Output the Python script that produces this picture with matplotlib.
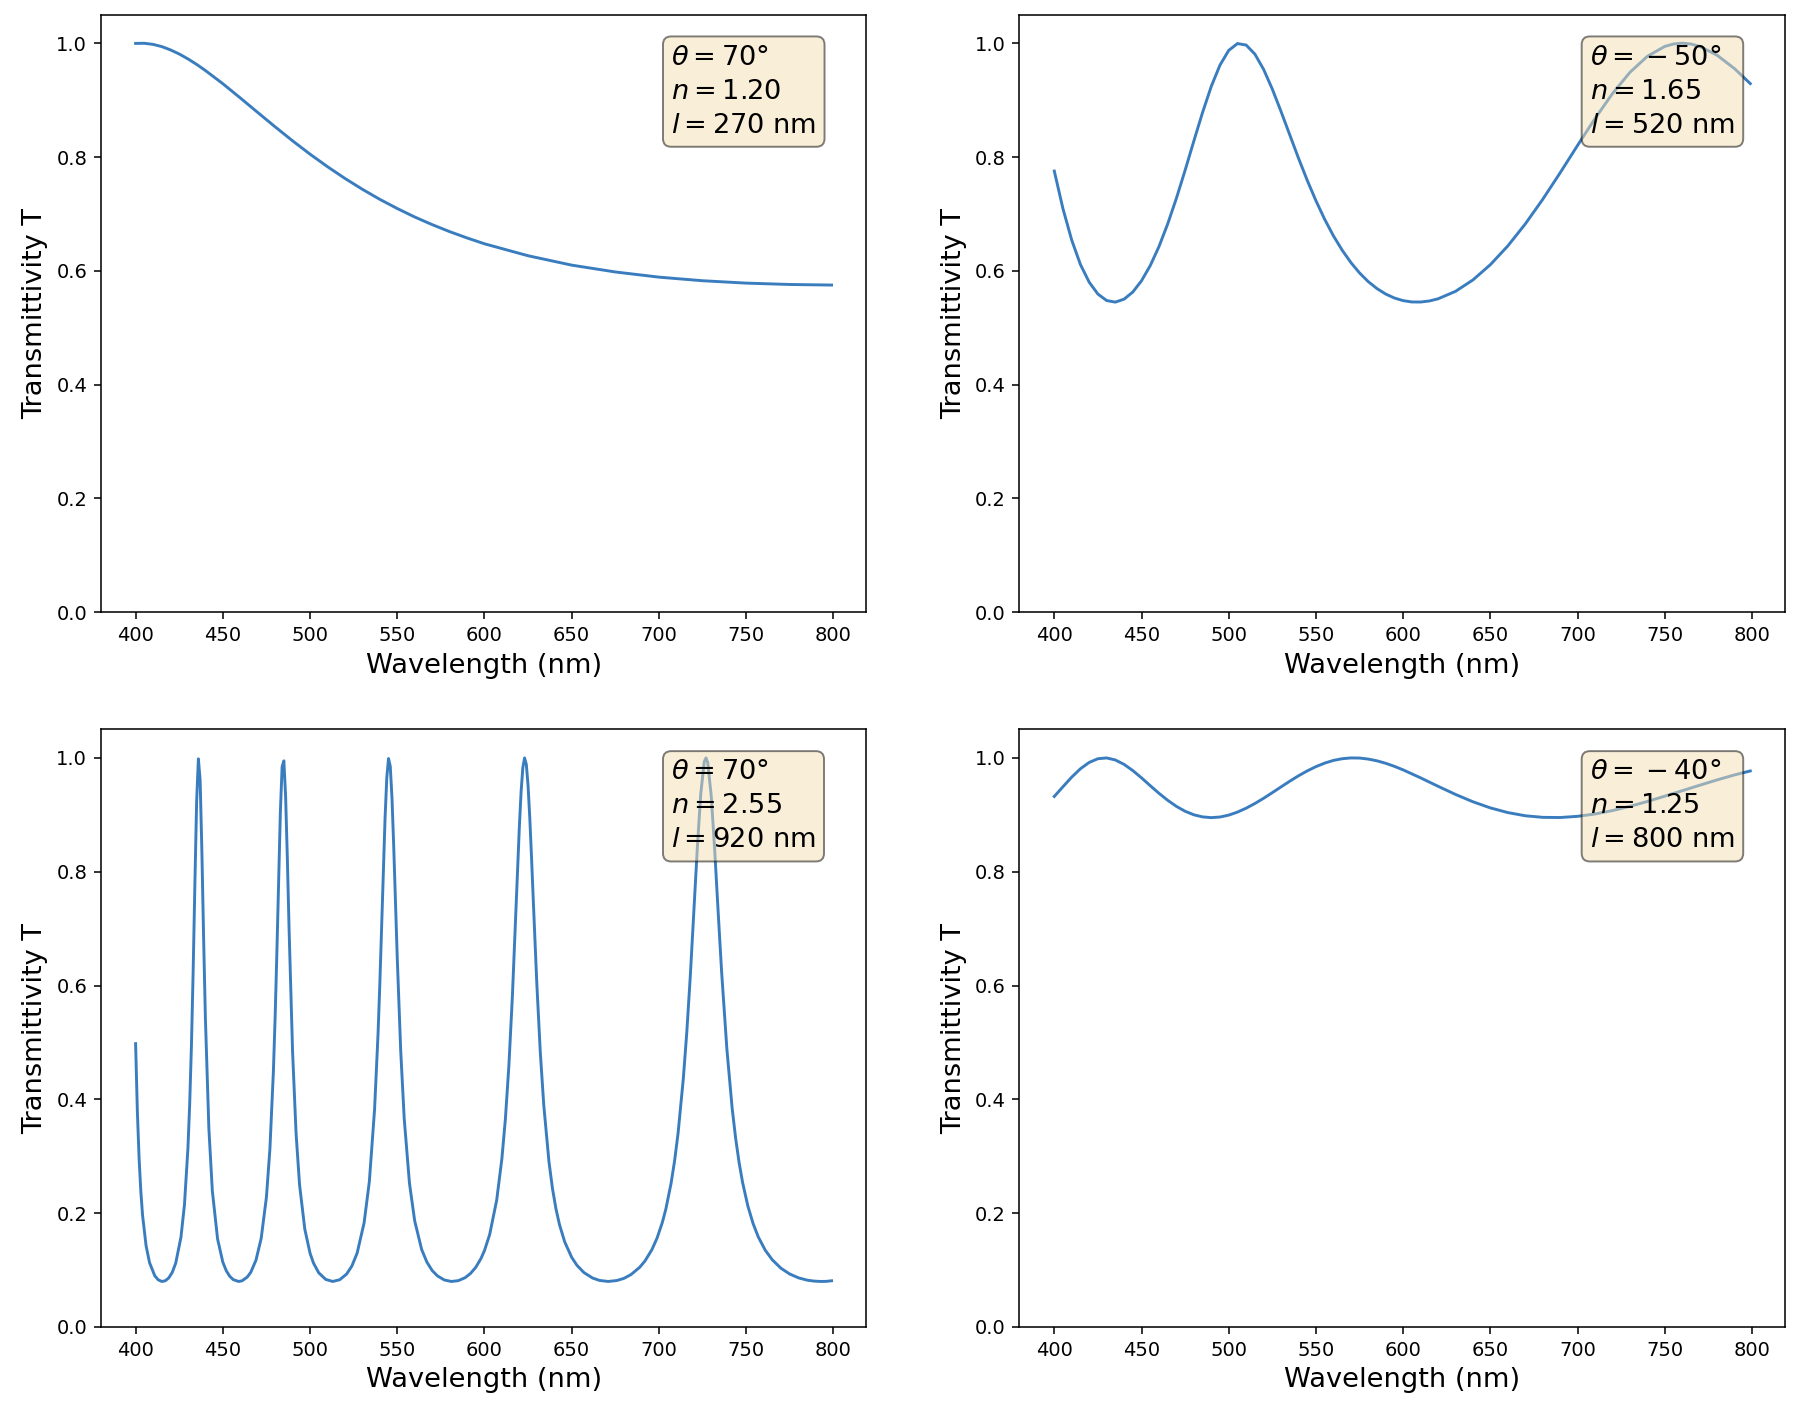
import matplotlib
matplotlib.use("Agg")
import matplotlib.pyplot as plt

plt.rcParams["font.family"] = "DejaVu Sans"
plt.rcParams["xtick.labelsize"] = 10
plt.rcParams["ytick.labelsize"] = 10
plt.rcParams["axes.labelsize"] = 14

# film parameters for each panel
thetas = [70, -50, 70, -40]
indices = [1.20, 1.65, 2.55, 1.25]
thicknesses = [270, 520, 920, 800]

# panel a: theta=70, n=1.20, l=270
wl_a = [400, 405, 410, 415, 420, 425, 430, 435, 440, 450, 460, 470, 480, 490,
        500, 510, 520, 530, 540, 550, 560, 570, 580, 590, 600, 625, 650, 675,
        700, 725, 750, 775, 799]
T_a = [0.9996, 0.9998, 0.9979, 0.994, 0.9882, 0.981, 0.9724, 0.9627, 0.952,
       0.9288, 0.9038, 0.8783, 0.853, 0.8284, 0.805, 0.783, 0.7624, 0.7433,
       0.7256, 0.7095, 0.6946, 0.6812, 0.6689, 0.6578, 0.6475, 0.6265, 0.61,
       0.598, 0.5889, 0.5826, 0.5784, 0.576, 0.575]

# panel b: theta=-50, n=1.65, l=520
wl_b = [400, 405, 410, 415, 420, 425, 430, 435, 440, 445, 450, 455, 460, 465,
        470, 475, 480, 485, 490, 495, 500, 505, 510, 515, 520, 525, 530, 535,
        540, 545, 550, 555, 560, 565, 570, 575, 580, 585, 590, 595, 600, 605,
        610, 615, 620, 630, 640, 650, 660, 670, 680, 690, 700, 710, 720, 730,
        740, 750, 755, 760, 765, 770, 780, 790, 799]
T_b = [0.7753, 0.7088, 0.6539, 0.611, 0.5801, 0.5592, 0.5478, 0.545, 0.5502,
       0.5627, 0.5825, 0.6091, 0.6425, 0.6823, 0.7274, 0.7767, 0.828, 0.8782,
       0.9241, 0.9615, 0.9873, 0.9993, 0.9967, 0.9808, 0.954, 0.9193, 0.8799,
       0.8389, 0.798, 0.7591, 0.7232, 0.6906, 0.6616, 0.6365, 0.6147, 0.5963,
       0.581, 0.5688, 0.5592, 0.5522, 0.5476, 0.5453, 0.5452, 0.547, 0.5508,
       0.5639, 0.584, 0.6108, 0.6437, 0.6823, 0.7255, 0.7722, 0.8204, 0.8676,
       0.9114, 0.9487, 0.9769, 0.9943, 0.9986, 1.0, 0.9985, 0.9944, 0.9788,
       0.9552, 0.929]

# panel c: theta=70, n=2.55, l=920
wl_c = [400, 401, 402, 403, 404, 406, 408, 411, 413, 415, 417, 419, 421, 423,
        426, 428, 430, 431, 432, 433, 434, 435, 436, 437, 438, 439, 440, 442,
        444, 447, 450, 452, 454, 456, 459, 461, 464, 466, 469, 472, 475, 477,
        479, 480, 481, 482, 483, 484, 485, 486, 487, 488, 490, 492, 494, 497,
        500, 502, 505, 509, 513, 517, 521, 524, 527, 531, 534, 537, 539, 540,
        541, 542, 543, 544, 545, 546, 547, 548, 549, 550, 552, 554, 557, 560,
        564, 567, 570, 573, 577, 581, 585, 589, 592, 595, 598, 600, 603, 607,
        610, 612, 614, 616, 618, 619, 620, 621, 622, 623, 624, 625, 626, 627,
        628, 630, 632, 634, 637, 639, 641, 643, 646, 650, 653, 657, 662, 666,
        671, 676, 680, 684, 689, 692, 696, 699, 702, 704, 707, 709, 711, 714,
        716, 718, 720, 722, 724, 726, 727, 728, 730, 732, 734, 736, 739, 742,
        744, 746, 748, 751, 754, 757, 761, 765, 770, 775, 780, 785, 789, 793,
        796, 799]
T_c = [0.4979, 0.3796, 0.2967, 0.2379, 0.196, 0.1429, 0.113, 0.0899, 0.0828,
       0.08, 0.0812, 0.0862, 0.0959, 0.1122, 0.1577, 0.2144, 0.3142, 0.3909,
       0.4934, 0.6258, 0.7804, 0.9242, 0.9983, 0.9606, 0.8354, 0.6823, 0.5441,
       0.3492, 0.2389, 0.1546, 0.114, 0.0987, 0.089, 0.0832, 0.08, 0.0811,
       0.0877, 0.096, 0.1173, 0.1558, 0.2281, 0.3128, 0.4496, 0.5447, 0.6591,
       0.7857, 0.9053, 0.9844, 0.9948, 0.9324, 0.8228, 0.6981, 0.4834, 0.3399,
       0.2498, 0.172, 0.1298, 0.1122, 0.0952, 0.0836, 0.08, 0.083, 0.0931,
       0.1072, 0.1298, 0.183, 0.2553, 0.3823, 0.5158, 0.6013, 0.6968, 0.798,
       0.8927, 0.965, 0.9988, 0.9852, 0.9284, 0.8425, 0.7449, 0.6489, 0.4845,
       0.3659, 0.2527, 0.1865, 0.1361, 0.114, 0.0993, 0.0899, 0.0826, 0.08,
       0.0814, 0.0868, 0.0941, 0.1048, 0.1203, 0.1342, 0.1626, 0.2227, 0.2959,
       0.3655, 0.4592, 0.5803, 0.7272, 0.8047, 0.8783, 0.9402, 0.9828, 0.9999,
       0.9886, 0.9511, 0.8938, 0.824, 0.7491, 0.6043, 0.4834, 0.3897, 0.2899,
       0.2431, 0.2075, 0.18, 0.1496, 0.1224, 0.1085, 0.0957, 0.086, 0.0818,
       0.08, 0.0817, 0.0855, 0.0921, 0.1049, 0.1159, 0.1359, 0.1566, 0.184,
       0.2074, 0.2527, 0.2919, 0.3405, 0.4363, 0.5181, 0.6161, 0.7272, 0.8399,
       0.9368, 0.9931, 1.0, 0.9917, 0.9334, 0.8379, 0.728, 0.6222, 0.4875,
       0.3845, 0.3316, 0.2887, 0.2537, 0.2126, 0.1818, 0.1581, 0.1348, 0.1181,
       0.1032, 0.0931, 0.0864, 0.0823, 0.0806, 0.08, 0.0802, 0.0812]

# panel d: theta=-40, n=1.25, l=800
wl_d = [400, 405, 410, 415, 420, 425, 430, 435, 440, 445, 450, 455, 460, 465,
        470, 475, 480, 485, 490, 495, 500, 505, 510, 515, 520, 525, 530, 535,
        540, 545, 550, 555, 560, 565, 570, 575, 580, 585, 590, 595, 600, 610,
        620, 630, 640, 650, 660, 670, 680, 690, 700, 710, 720, 730, 740, 750,
        760, 770, 780, 790, 799]
T_d = [0.9322, 0.9494, 0.9662, 0.9809, 0.992, 0.9985, 0.9999, 0.9963, 0.9886,
       0.9777, 0.9649, 0.9512, 0.9378, 0.9255, 0.9148, 0.9062, 0.9, 0.8963,
       0.895, 0.8961, 0.8994, 0.9047, 0.9116, 0.9198, 0.929, 0.9389, 0.949,
       0.959, 0.9685, 0.9771, 0.9846, 0.9908, 0.9955, 0.9985, 0.9999, 0.9997,
       0.9979, 0.9948, 0.9905, 0.9851, 0.9789, 0.9649, 0.9501, 0.9358, 0.9229,
       0.9121, 0.9039, 0.8983, 0.8955, 0.8952, 0.8973, 0.9014, 0.9074, 0.9148,
       0.9234, 0.9327, 0.9423, 0.9519, 0.9613, 0.9701, 0.977]

wls = [wl_a, wl_b, wl_c, wl_d]
Ts = [T_a, T_b, T_c, T_d]

fig, axes = plt.subplots(2, 2, figsize=(1800 / 140, 1402 / 140), dpi=140)
fig.subplots_adjust(left=0.056, right=0.9917, bottom=0.0535, top=0.9895,
                    wspace=0.2, hspace=0.196)

props = dict(boxstyle='round', facecolor='wheat', alpha=0.5)

for ax, wl, T, th, n, l in zip(axes.flat, wls, Ts, thetas, indices, thicknesses):
    ax.plot(wl, T, color='#3a7dbf', lw=1.5)
    ax.set_ylim(0, 1.05)
    ax.set_xticks([400, 450, 500, 550, 600, 650, 700, 750, 800])
    ax.set_xlabel('Wavelength (nm)')
    ax.set_ylabel('Transmittivity T')
    # binary-style spacing around the minus, as in the original
    th_str = r'{}-%.0f' % abs(th) if th < 0 else '%.0f' % th
    textstr = '\n'.join((r'$\theta = %s°$' % th_str,
                         r'$n = %.2f$' % n,
                         r'$l = %.0f$ nm' % l))
    ax.text(0.745, 0.95, textstr, transform=ax.transAxes, fontsize=14,
            va='top', linespacing=1.4, bbox=props)

plt.savefig('out.png', dpi=140)
